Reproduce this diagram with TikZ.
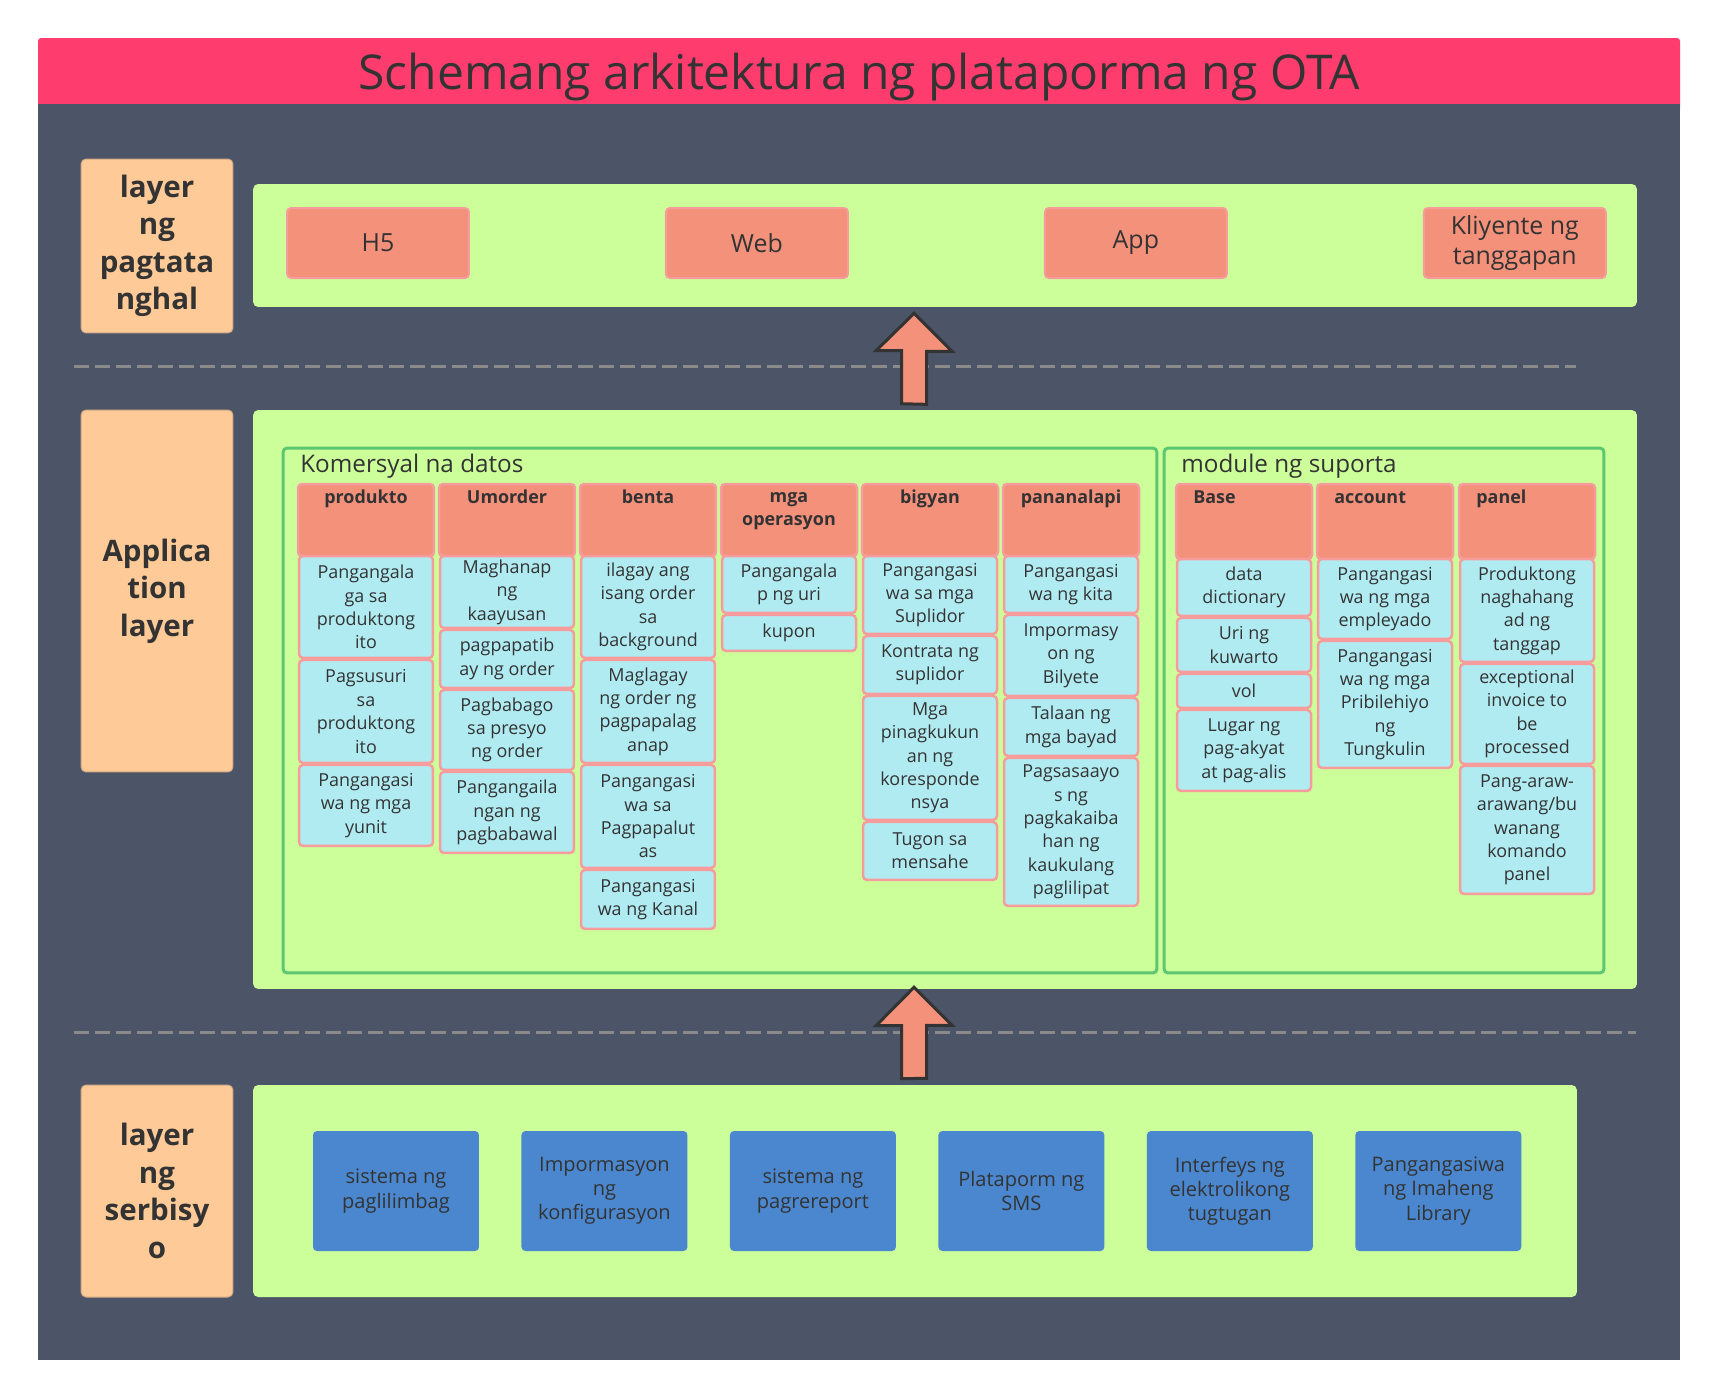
\documentclass[tikz,border=0pt]{standalone}
\usepackage{fontspec}
\setmainfont{Open Sans}
\usetikzlibrary{positioning,calc}

\definecolor{titlepink}{HTML}{FE3D6E}
\definecolor{slate}{HTML}{4B5567}
\definecolor{labelorange}{HTML}{FECA98}
\definecolor{labelline}{HTML}{D4A884}
\definecolor{panelgreen}{HTML}{CCFF99}
\definecolor{groupline}{HTML}{5CC770}
\definecolor{salmon}{HTML}{F4917B}
\definecolor{cellline}{HTML}{F79C9C}
\definecolor{cellfill}{HTML}{B1EBF2}
\definecolor{svcblue}{HTML}{4B87CF}
\definecolor{dashgray}{HTML}{8A8A8A}
\definecolor{ink}{HTML}{333333}

\begin{document}
\begin{tikzpicture}[x=0.02cm, y=-0.02cm,
    node distance=0.04cm,
    layerlabel/.style={fill=labelorange, draw=labelline, line width=0.02cm, rounded corners=0.1cm, minimum width=3.04cm, align=center, text=ink, font=\bfseries\fontsize{16.8}{21.3}\selectfont},
    panel/.style={fill=panelgreen, rounded corners=0.1cm, inner sep=0pt},
    clientbox/.style={fill=salmon, draw=cellline, line width=0.04cm, rounded corners=0.08cm, minimum width=3.64cm, minimum height=1.4cm, align=center, text=ink, font=\fontsize{14.2}{17.1}\selectfont},
    groupbox/.style={draw=groupline, line width=0.06cm, rounded corners=0.08cm, inner sep=0pt, minimum height=10.5cm},
    grouptitle/.style={anchor=base west, inner sep=0pt, text=ink, font=\fontsize{13.8}{16}\selectfont},
    colhead/.style={fill=salmon, draw=cellline, line width=0.05cm, rounded corners=0.08cm, outer sep=0pt, minimum width=2.72cm, minimum height=#1},
    headtext/.style={inner sep=0pt, align=center, text=ink, font=\bfseries\fontsize{10.2}{12.9}\selectfont, execute at begin node=\strut},
    modcell/.style={fill=cellfill, draw=cellline, line width=0.05cm, rounded corners=0.08cm, outer sep=0pt, minimum width=2.68cm, minimum height=#1, inner sep=0.04cm, align=center, text=ink, font=\fontsize{10.2}{13.3}\selectfont},
    svcbox/.style={fill=svcblue, rounded corners=0.08cm, outer sep=0pt, minimum width=3.32cm, minimum height=2.4cm, align=center, text=ink, font=\fontsize{11.4}{13.7}\selectfont},
    bigarrow/.style={fill=salmon, draw=ink, line width=0.06cm},
    sepline/.style={draw=dashgray, line width=0.06cm, dash pattern=on 0.3cm off 0.12cm}
]
    \useasboundingbox (0,0) rectangle (1716,1397);
    \fill[white] (0,0) rectangle (1716,1397);
    \fill[titlepink, rounded corners=0.06cm] (38,38) rectangle (1680,112);
    \fill[slate] (38,104) rectangle (1680,1360);
    \node[text=ink, font=\fontsize{27.3}{33}\selectfont] (title) at (859,77) {Schemang arkitektura ng plataporma ng OTA};

    \draw[sepline] (74,366) -- (1576,366);
    \draw[sepline] (74,1032) -- (1636,1032);

    \node[layerlabel, minimum height=3.48cm] (lblpres) at (157,246) {layer\\ng\\pagtata\\nghal};
    \node[layerlabel, minimum height=7.24cm] (lblapp) at (157,591) {Applica\\tion\\layer};
    \node[layerlabel, minimum height=4.24cm] (lblsvc) at (157,1191) {layer\\ng\\serbisy\\o};

    \node[panel, minimum width=27.68cm, minimum height=2.46cm] (prespanel) at (945,245.5) {};
    \node[panel, minimum width=27.68cm, minimum height=11.58cm] (apppanel) at (945,699.5) {};
    \node[panel, minimum width=26.48cm, minimum height=4.24cm] (svcpanel) at (915,1191) {};

    \node[clientbox] (h5) at (378,243) {H5};
    \node[clientbox, right=3.9cm of h5] (web) {Web};
    \node[clientbox, right=3.9cm of web] (app) {App};
    \node[clientbox, right=3.9cm of app] (office) {Kliyente ng\\tanggapan};

    \coordinate (up1tip) at ($(prespanel.south)+(-31,6)$);
    \coordinate (up1end) at ($(apppanel.north)+(-31,-6)$);
    \draw[bigarrow] (up1end) ++(-12.5,0) -- ++(0,-53) -- ++(-25.5,0) -- (up1tip) -- ++(38,38) -- ++(-25.5,0) -- ++(0,53) -- cycle;
    \coordinate (up2tip) at ($(apppanel.south)+(-31,-2)$);
    \coordinate (up2end) at ($(svcpanel.north)+(-1,-6)$);
    \draw[bigarrow] (up2end) ++(-12.5,0) -- ++(0,-53) -- ++(-25.5,0) -- (up2tip) -- ++(38,38) -- ++(-25.5,0) -- ++(0,53) -- cycle;

    \node[groupbox, minimum width=17.48cm] (komersyal) at (720,710.5) {};
    \node[groupbox, minimum width=8.8cm] (suporta) at (1384,710.5) {};
    \node[grouptitle] (komtitle) at (300,472) {Komersyal na datos};
    \node[grouptitle] (suptitle) at (1181,472) {module ng suporta};

    \node[colhead=1.44cm] (hprod) at (366,520) {};
    \node[headtext, below=0.07cm of hprod.north] (tprod) {produkto};
    \node[modcell=2.04cm, below=0pt of hprod] (prod1) {Pangangala\\ga sa\\produktong\\ito};
    \node[modcell=2.06cm, below=of prod1] (prod2) {Pagsusuri\\sa\\produktong\\ito};
    \node[modcell=1.62cm, below=of prod2] (prod3) {Pangangasi\\wa ng mga\\yunit};

    \node[colhead=1.44cm] (hord) at (507,520) {};
    \node[headtext, below=0.07cm of hord.north] (tord) {Umorder};
    \node[modcell=1.44cm, below=0pt of hord] (ord1) {Maghanap\\ng\\kaayusan};
    \node[modcell=1.16cm, below=of ord1] (ord2) {pagpapatib\\ay ng order};
    \node[modcell=1.6cm, below=of ord2] (ord3) {Pagbabago\\sa presyo\\ng order};
    \node[modcell=1.62cm, below=of ord3] (ord4) {Pangangaila\\ngan ng\\pagbabawal};

    \node[colhead=1.44cm] (hsale) at (648,520) {};
    \node[headtext, below=0.07cm of hsale.north] (tsale) {benta};
    \node[modcell=2.04cm, below=0pt of hsale] (sale1) {ilagay ang\\isang order\\sa\\background};
    \node[modcell=2.06cm, below=of sale1] (sale2) {Maglagay\\ng order ng\\pagpapalag\\anap};
    \node[modcell=2.06cm, below=of sale2] (sale3) {Pangangasi\\wa sa\\Pagpapalut\\as};
    \node[modcell=1.18cm, below=of sale3] (sale4) {Pangangasi\\wa ng Kanal};

    \node[colhead=1.44cm] (hops) at (789,520) {};
    \node[headtext, below=0.17cm of hops.north] (tops) {mga\\operasyon};
    \node[modcell=1.14cm, below=0pt of hops] (ops1) {Pangangala\\p ng uri};
    \node[modcell=0.72cm, below=of ops1] (ops2) {kupon};

    \node[colhead=1.44cm] (hgive) at (930,520) {};
    \node[headtext, below=0.07cm of hgive.north] (tgive) {bigyan};
    \node[modcell=1.56cm, below=0pt of hgive] (give1) {Pangangasi\\wa sa mga\\Suplidor};
    \node[modcell=1.16cm, below=of give1] (give2) {Kontrata ng\\suplidor};
    \node[modcell=2.48cm, below=of give2] (give3) {Mga\\pinagkukun\\an ng\\koresponde\\nsya};
    \node[modcell=1.16cm, below=of give3] (give4) {Tugon sa\\mensahe};

    \node[colhead=1.44cm] (hfin) at (1071,520) {};
    \node[headtext, below=0.07cm of hfin.north] (tfin) {pananalapi};
    \node[modcell=1.14cm, below=0pt of hfin] (fin1) {Pangangasi\\wa ng kita};
    \node[modcell=1.62cm, below=of fin1] (fin2) {Impormasy\\on ng\\Bilyete};
    \node[modcell=1.16cm, below=of fin2] (fin3) {Talaan ng\\mga bayad};
    \node[modcell=2.96cm, below=of fin3] (fin4) {Pagsasaayo\\s ng\\pagkakaiba\\han ng\\kaukulang\\paglilipat};

    \node[colhead=1.5cm] (hbase) at (1244,521.5) {};
    \node[headtext, below right=0.07cm and 0.34cm of hbase.north west] (tbase) {Base};
    \node[modcell=1.14cm, below=0pt of hbase] (base1) {data\\dictionary};
    \node[modcell=1.08cm, below=of base1] (base2) {Uri ng\\kuwarto};
    \node[modcell=0.68cm, below=of base2] (base3) {vol};
    \node[modcell=1.62cm, below=of base3] (base4) {Lugar ng\\pag-akyat\\at pag-alis};

    \node[colhead=1.5cm] (hacct) at (1385,521.5) {};
    \node[headtext, below right=0.07cm and 0.34cm of hacct.north west] (tacct) {account};
    \node[modcell=1.6cm, below=0pt of hacct] (acct1) {Pangangasi\\wa ng mga\\empleyado};
    \node[modcell=2.54cm, below=of acct1] (acct2) {Pangangasi\\wa ng mga\\Pribilehiyo\\ng\\Tungkulin};

    \node[colhead=1.5cm] (hpanel) at (1527,521.5) {};
    \node[headtext, below right=0.07cm and 0.34cm of hpanel.north west] (tpanel) {panel};
    \node[modcell=2.06cm, below=0pt of hpanel] (panel1) {Produktong\\naghahang\\ad ng\\tanggap};
    \node[modcell=2cm, below=of panel1] (panel2) {exceptional\\invoice to\\be\\processed};
    \node[modcell=2.56cm, below=of panel2] (panel3) {Pang-araw-\\arawang/bu\\wanang\\komando\\panel};

    \node[svcbox] (svc1) at (396,1191) {sistema ng\\paglilimbag};
    \node[svcbox, right=0.85cm of svc1] (svc2) {Impormasyon\\ng\\konfigurasyon};
    \node[svcbox, right=0.85cm of svc2] (svc3) {sistema ng\\pagrereport};
    \node[svcbox, right=0.85cm of svc3] (svc4) {Plataporm ng\\SMS};
    \node[svcbox, right=0.85cm of svc4] (svc5) {Interfeys ng\\elektrolikong\\tugtugan};
    \node[svcbox, right=0.85cm of svc5] (svc6) {Pangangasiwa\\ng Imaheng\\Library};
\end{tikzpicture}
\end{document}
